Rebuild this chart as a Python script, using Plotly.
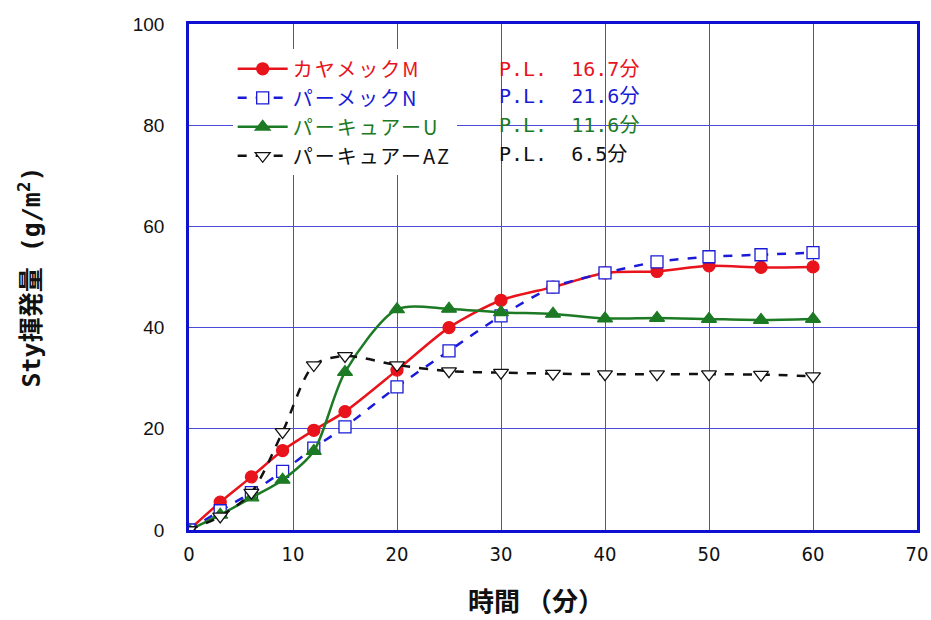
import plotly.graph_objects as go

time_min = [0, 3, 6, 9, 12, 15, 20, 25, 30, 35, 40, 45, 50, 55, 60]

kayamek_m = [0, 5.5, 10.5, 15.7, 19.7, 23.4, 31.6, 40.0, 45.4, 48.0, 50.8, 51.1, 52.2, 51.9, 52.0]
permek_n = [0, 3.8, 7.4, 11.6, 16.2, 20.4, 28.3, 35.4, 42.3, 48.0, 50.8, 53.0, 54.0, 54.4, 54.8]
percure_u = [0, 3.0, 6.4, 9.9, 15.6, 31.2, 43.6, 43.7, 43.0, 42.7, 41.8, 41.9, 41.7, 41.5, 41.7]
percure_az = [0, 2.7, 7.4, 19.4, 32.6, 34.4, 32.6, 31.4, 31.1, 30.9, 30.8, 30.8, 30.8, 30.7, 30.4]

names = ["カヤメックM", "パーメックN", "パーキュアーU", "パーキュアーAZ"]
pot_life = ["P.L.  16.7分", "P.L.  21.6分", "P.L.  11.6分", "P.L.  6.5分"]
colors = ["#E8131B", "#1A1AD8", "#1D7A24", "#111111"]

x_ticks = [0, 10, 20, 30, 40, 50, 60, 70]
y_ticks = [0, 20, 40, 60, 80, 100]

series = [kayamek_m, permek_n, percure_u, percure_az]
dashes = ["solid", "dash", "solid", "dash"]
symbols = ["circle", "square", "triangle-up", "triangle-down"]
fills = [True, False, True, False]
sizes = [12, 12, 13, 13]

fig = go.Figure()
for ys, name, col, dash, sym, fill, sz in zip(series, names, colors, dashes, symbols, fills, sizes):
    fig.add_trace(go.Scatter(
        x=time_min, y=ys,
        name=f'<span style="color:{col};letter-spacing:2px">{name}</span>',
        mode="lines+markers",
        line=dict(color=col, width=2.5, dash=dash, shape="spline", smoothing=0.8),
        marker=dict(symbol=sym, size=sz, color=col if fill else "white",
                    line=dict(color=col, width=1.3)),
    ))

# P.L. labels next to legend
row_y = [0.911, 0.857, 0.801, 0.743]
mono = "DejaVu Sans Mono, Noto Sans CJK JP"
for txt, col, yy in zip(pot_life, colors, row_y):
    fig.add_annotation(x=0.423, y=yy, xref="paper", yref="paper", text=txt,
                       showarrow=False, xanchor="left", yanchor="middle",
                       font=dict(family=mono, size=20, color=col))

# x-axis title
fig.add_annotation(x=0.476, y=-0.138, xref="paper", yref="paper",
                   text="<b>時間 （分）</b>", showarrow=False,
                   xanchor="center", yanchor="middle",
                   font=dict(family="Noto Sans CJK JP", size=26, color="#111"))

grid_col = "#4B4BD6"
fig.update_xaxes(range=[0, 70], tickvals=x_ticks, showgrid=True, gridcolor=grid_col, gridwidth=1.2,
                 showline=True, linecolor="#1010D0", linewidth=2.5, mirror=True, zeroline=False,
                 ticks="", ticklabelstandoff=4, automargin=False,
                 tickfont=dict(family="Liberation Sans Narrow, DejaVu Sans Condensed, Liberation Sans",
                               size=20, color="#111"))
fig.update_yaxes(range=[0, 100], tickvals=y_ticks, showgrid=True, gridcolor=grid_col, gridwidth=1.2,
                 showline=True, linecolor="#1010D0", linewidth=2.5, mirror=True, zeroline=False,
                 ticks="", ticklabelstandoff=18, automargin=False,
                 tickfont=dict(family="Liberation Sans", size=19, color="#111"),
                 title=dict(text="<b>Sty揮発量 (g/m<sup>2</sup>)</b>", standoff=85,
                            font=dict(family=mono, size=25, color="#111")))

fig.update_layout(
    width=931, height=620,
    margin=dict(l=189, r=14, t=24, b=90),
    plot_bgcolor="white", paper_bgcolor="white",
    legend=dict(x=0.06, y=0.95, xanchor="left", yanchor="top",
                bgcolor="white", borderwidth=0,
                font=dict(family="Noto Sans CJK JP", size=20, color="#111"),
                itemwidth=50, tracegroupgap=0),
)

fig.write_html("out.html")
